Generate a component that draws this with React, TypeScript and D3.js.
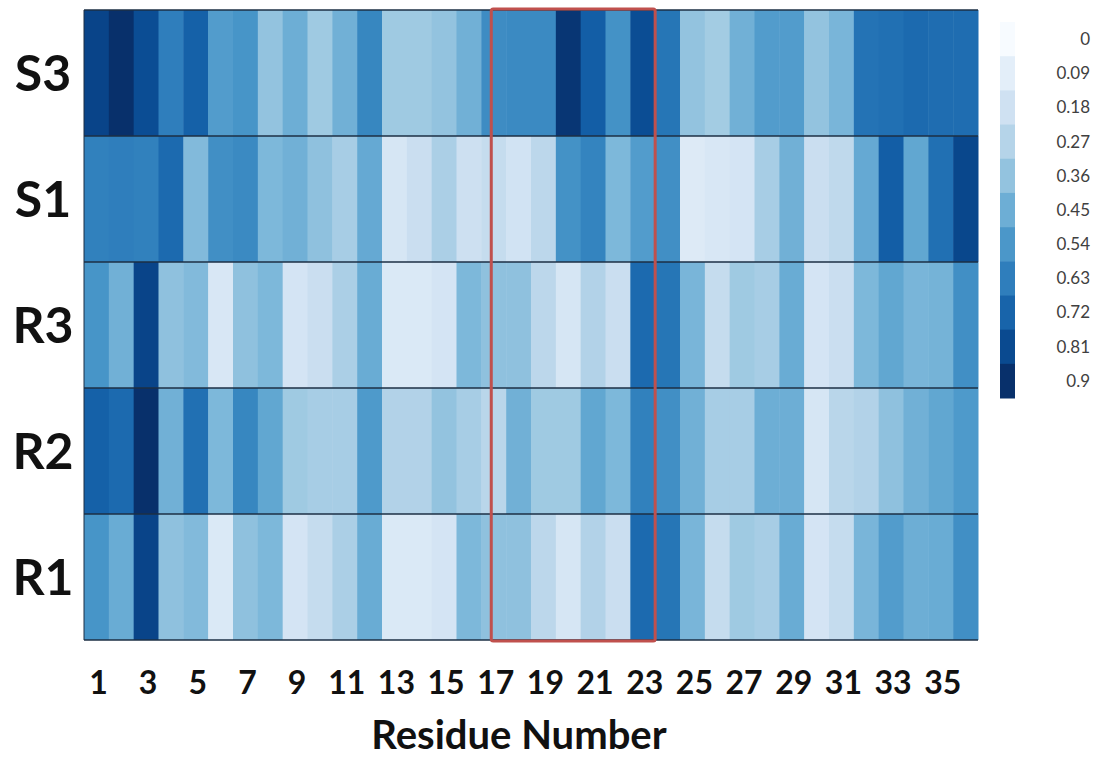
import * as d3 from 'd3'

// residue numbers along x
const residues = d3.range(1, 37)
const tickResidues = residues.filter(r => r % 2 === 1)
const rowNames = ['S3', 'S1', 'R3', 'R2', 'R1']

// values per sample, residue 1..36
const s3 = [0.83, 0.9, 0.8, 0.63, 0.73, 0.52, 0.55, 0.36, 0.45, 0.33, 0.44, 0.6, 0.33, 0.33, 0.36, 0.44, 0.58, 0.59, 0.59, 0.88, 0.74, 0.56, 0.8, 0.66, 0.36, 0.32, 0.44, 0.52, 0.52, 0.36, 0.42, 0.67, 0.68, 0.7, 0.69, 0.69]
const s1 = [0.62, 0.63, 0.62, 0.7, 0.4, 0.57, 0.59, 0.41, 0.44, 0.37, 0.31, 0.47, 0.15, 0.2, 0.3, 0.19, 0.22, 0.17, 0.25, 0.56, 0.61, 0.41, 0.52, 0.57, 0.12, 0.14, 0.16, 0.31, 0.44, 0.2, 0.24, 0.47, 0.74, 0.48, 0.68, 0.82]
const r3 = [0.55, 0.44, 0.83, 0.37, 0.4, 0.14, 0.37, 0.41, 0.16, 0.2, 0.3, 0.46, 0.13, 0.13, 0.16, 0.41, 0.37, 0.37, 0.25, 0.15, 0.28, 0.2, 0.7, 0.66, 0.42, 0.22, 0.33, 0.31, 0.46, 0.16, 0.2, 0.41, 0.48, 0.42, 0.43, 0.57]
const r2 = [0.73, 0.7, 0.9, 0.44, 0.68, 0.41, 0.6, 0.48, 0.33, 0.31, 0.31, 0.53, 0.28, 0.28, 0.36, 0.31, 0.26, 0.44, 0.33, 0.33, 0.48, 0.41, 0.62, 0.57, 0.44, 0.31, 0.31, 0.45, 0.45, 0.15, 0.26, 0.28, 0.37, 0.44, 0.48, 0.53]
const r1 = [0.55, 0.46, 0.83, 0.37, 0.4, 0.13, 0.37, 0.41, 0.16, 0.22, 0.3, 0.46, 0.13, 0.13, 0.16, 0.41, 0.37, 0.37, 0.25, 0.15, 0.28, 0.2, 0.7, 0.66, 0.42, 0.22, 0.33, 0.31, 0.46, 0.16, 0.22, 0.42, 0.52, 0.45, 0.46, 0.57]

const legendTicks = [0, 0.09, 0.18, 0.27, 0.36, 0.45, 0.54, 0.63, 0.72, 0.81, 0.9]
const highlight = [17, 23] // boxed residues

export default function App() {
  const width = 1097
  const height = 759
  const left = 84, right = 978, top = 10, bottom = 640

  const rowsData: Record<string, number[]> = {S3: s3, S1: s1, R3: r3, R2: r2, R1: r1}

  const x = d3.scaleBand<number>().domain(residues).range([left, right])
  const y = d3.scaleBand<string>().domain(rowNames).range([top, bottom])
  const color = d3.scaleSequential(d3.interpolateBlues).domain([0, 0.9])
  const legendY = d3.scaleBand<number>().domain(legendTicks).range([22, 398])

  const bw = x.bandwidth()
  const boxX0 = (x(highlight[0]) as number) + bw * 0.4
  const boxX1 = (x(highlight[1]) as number) + bw

  const font = 'Lato, "Open Sans", sans-serif'

  return (
    <svg width={width} height={height} style={{position: 'absolute', left: 0, top: 0, background: 'white'}}>
      {/* cells */}
      {rowNames.map(name =>
        rowsData[name].map((v, i) => (
          <rect key={name + i}
            x={x(residues[i])} y={y(name)}
            width={bw + 0.5} height={y.bandwidth()}
            fill={color(v)} />
        ))
      )}
      {/* row separators and frame */}
      {rowNames.map(name => (
        <line key={'l' + name} x1={left} x2={right} y1={y(name)} y2={y(name)} stroke="#1d2f45" strokeWidth={1.5} />
      ))}
      <line x1={left} x2={right} y1={bottom} y2={bottom} stroke="#1d2f45" strokeWidth={1.5} />
      <line x1={left} x2={left} y1={top} y2={bottom} stroke="#1d2f45" strokeWidth={1} />

      {/* highlight box */}
      <rect x={boxX0} y={top - 1} width={boxX1 - boxX0} height={bottom - top + 2}
        fill="none" stroke="#c0504d" strokeWidth={3} rx={2} />

      {/* row labels */}
      {rowNames.map(name => (
        <text key={'t' + name} x={43} y={(y(name) as number) + y.bandwidth() / 2}
          dy="0.36em" textAnchor="middle" fontFamily={font} fontWeight="bold" fontSize={50} fill="#111">
          {name}
        </text>
      ))}

      {/* x tick labels */}
      {tickResidues.map(r => (
        <text key={'x' + r} x={(x(r) as number) + bw / 2 + 2} y={694} textAnchor="middle"
          fontFamily={font} fontWeight="bold" fontSize={32} fill="#111">
          {r}
        </text>
      ))}
      <text x={(left + right) / 2 - 12} y={749} textAnchor="middle" fontFamily={font}
        fontWeight="bold" fontSize={40} fill="#111">Residue Number</text>

      {/* legend */}
      {legendTicks.map(t => (
        <g key={'g' + t}>
          <rect x={1000} y={legendY(t)} width={15} height={legendY.bandwidth() + 0.5} fill={color(t)} />
          <text x={1090} y={(legendY(t) as number) + legendY.bandwidth() / 2} dy="0.35em"
            textAnchor="end" fontFamily={font} fontSize={17} fill="#404040">
            {t}
          </text>
        </g>
      ))}
    </svg>
  )
}
